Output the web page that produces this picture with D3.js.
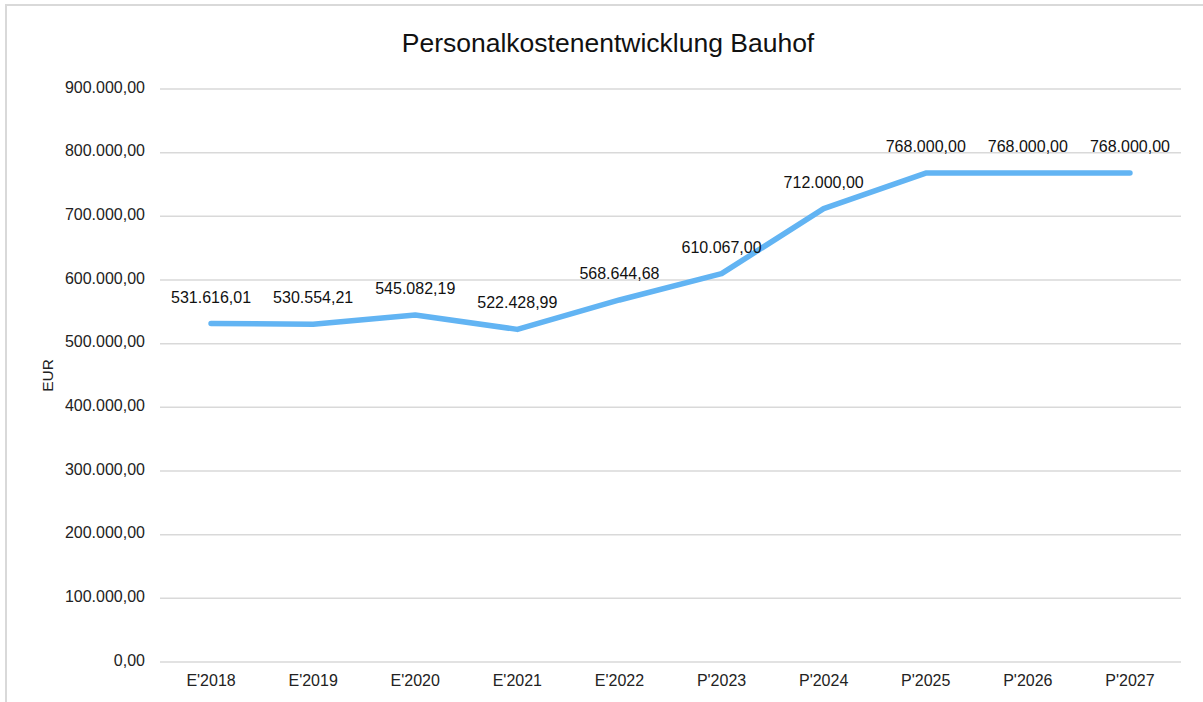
<!DOCTYPE html>
<html><head><meta charset="utf-8">
<script src="https://cdn.jsdelivr.net/npm/d3@7"></script>
<style>
html,body{margin:0;padding:0;background:#fff;}
svg{display:block;font-family:"Liberation Sans",Arial,Helvetica,sans-serif;}
</style></head>
<body>
<script>
const title = "Personalkostenentwicklung Bauhof";
const yAxisTitle = "EUR";
const categories = ["E'2018","E'2019","E'2020","E'2021","E'2022","P'2023","P'2024","P'2025","P'2026","P'2027"];
const values = [531616.01, 530554.21, 545082.19, 522428.99, 568644.68, 610067.00, 712000.00, 768000.00, 768000.00, 768000.00];
const yTicks = [0,100000,200000,300000,400000,500000,600000,700000,800000,900000];

const W = 1203, H = 702;
const fmt = v => {
  const s = v.toFixed(2).split(".");
  return s[0].replace(/\B(?=(\d{3})+(?!\d))/g, ".") + "," + s[1];
};

const svg = d3.select("body").append("svg").attr("width", W).attr("height", H);

// chart border
svg.append("rect").attr("x",6).attr("y",5).attr("width",W+20).attr("height",H+20)
  .attr("fill","none").attr("stroke","#d9d9d9").attr("stroke-width",2);

const x = d3.scaleBand().domain(categories).range([160, 1181]);
const y = d3.scaleLinear().domain([0, 900000]).range([662, 89]);

// gridlines
svg.append("g").selectAll("line").data(yTicks).join("line")
  .attr("x1",160).attr("x2",1181)
  .attr("y1",d=>y(d)).attr("y2",d=>y(d))
  .attr("stroke","#d9d9d9").attr("stroke-width",1.5);

// y axis labels
const yAxis = d3.axisLeft(y).tickValues(yTicks).tickFormat(fmt).tickSize(0).tickPadding(0);
const gy = svg.append("g").attr("transform","translate(145,-2)").call(yAxis);
gy.select(".domain").remove();
gy.selectAll("text").attr("font-size",16).attr("fill","#222").attr("font-family","Liberation Sans, Arial, sans-serif");

// x axis labels
const xAxis = d3.axisBottom(x).tickSize(0).tickPadding(0);
const gx = svg.append("g").attr("transform","translate(0,675)").call(xAxis);
gx.select(".domain").remove();
gx.selectAll("text").attr("font-size",16).attr("fill","#222").attr("font-family","Liberation Sans, Arial, sans-serif");

// title
svg.append("text").attr("x",608).attr("y",52).attr("text-anchor","middle")
  .attr("font-size",26.5).attr("fill","#111").text(title);

// y axis title
svg.append("text").attr("transform","translate(53,375.5) rotate(-90)")
  .attr("text-anchor","middle").attr("font-size",15.5).attr("fill","#222").text(yAxisTitle);

// line
const line = d3.line().x((d,i)=>x(categories[i]) + x.bandwidth()/2).y(d=>y(d));
svg.append("path").datum(values).attr("d", line)
  .attr("fill","none").attr("stroke","#62b4f3").attr("stroke-width",5.5)
  .attr("stroke-linecap","round").attr("stroke-linejoin","round");

// data labels
svg.append("g").selectAll("text").data(values).join("text")
  .attr("x",(d,i)=>x(categories[i]) + x.bandwidth()/2)
  .attr("y",d=>y(d) - 21)
  .attr("text-anchor","middle").attr("font-size",16).attr("fill","#111")
  .text(fmt);
</script>
</body></html>
